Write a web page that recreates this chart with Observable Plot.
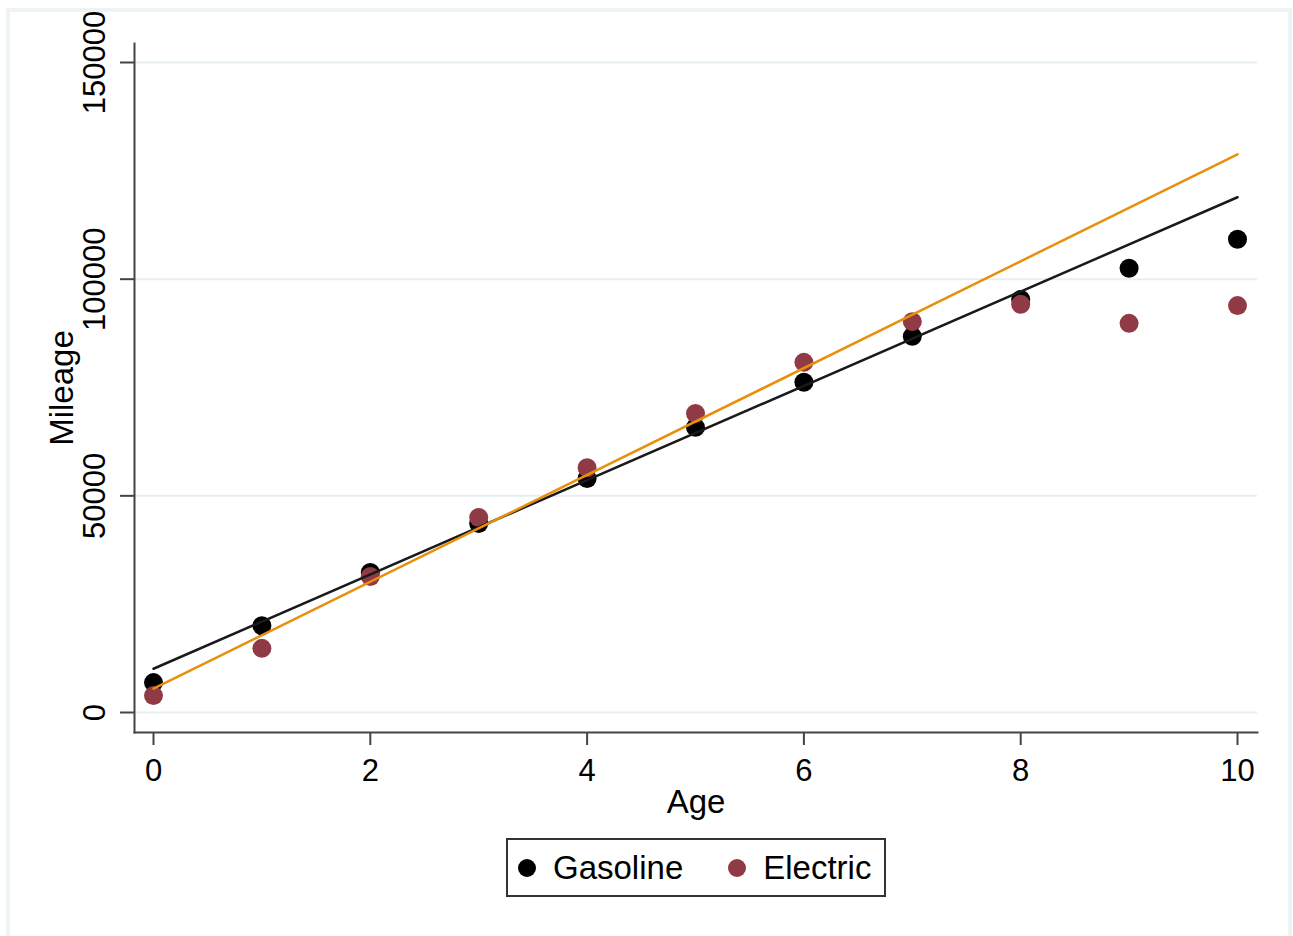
<!DOCTYPE html>
<html>
<head>
<meta charset="utf-8">
<script src="https://cdn.jsdelivr.net/npm/d3@7"></script>
<script src="https://cdn.jsdelivr.net/npm/@observablehq/plot@0.6"></script>
<style>
  html, body { margin: 0; padding: 0; background: #fff; }
  #wrap { position: relative; width: 1293px; height: 936px; overflow: hidden; background: #fff; font-family: "Liberation Sans", Arial, sans-serif; }
  #outer { position: absolute; left: 6px; top: 8px; width: 1278px; height: 940px; border: 4px solid #eef3f4; box-sizing: content-box; }
  #chart { position: absolute; left: 0; top: 0; }
  #legend { position: absolute; left: 506px; top: 838px; width: 376px; height: 55px; border: 2px solid #333; display: flex; align-items: center; font-size: 33px; color: #000; }
  .sw { width: 18px; height: 18px; border-radius: 50%; display: inline-block; }
</style>
</head>
<body>
<div id="wrap">
  <div id="outer"></div>
  <div id="chart"></div>
  <div id="legend"></div>
</div>
<script>
// ---- data ----
const ages = [0, 1, 2, 3, 4, 5, 6, 7, 8, 9, 10];
const gasoline = [6900, 20000, 32300, 43600, 54000, 65800, 76200, 86800, 95300, 102500, 109200];
const electric = [3900, 14800, 31400, 45000, 56500, 69000, 80800, 90200, 94200, 89800, 93900];
const fitAges = [0, 10];
const gasolineFit = [10100, 118900];
const electricFit = [5500, 128800];
const seriesNames = ["Gasoline", "Electric"];
const seriesColors = ["#000000", "#8f3a45"];
const fitColors = ["#1a1a1a", "#e8900c"];
const xTicks = [0, 2, 4, 6, 8, 10];
const yTicks = [0, 50000, 100000, 150000];

const gasPts = ages.map((a, i) => ({age: a, mileage: gasoline[i]}));
const elecPts = ages.map((a, i) => ({age: a, mileage: electric[i]}));
const gasLine = fitAges.map((a, i) => ({age: a, mileage: gasolineFit[i]}));
const elecLine = fitAges.map((a, i) => ({age: a, mileage: electricFit[i]}));

const axisColor = "#444";
const font = "Liberation Sans, Arial, sans-serif";

const chart = Plot.plot({
  width: 1293,
  height: 830,
  marginLeft: 134,
  marginRight: 36,
  marginTop: 43,
  marginBottom: 98,
  style: {fontFamily: font, fontSize: "31px", color: "#000", background: "transparent"},
  x: {domain: [0, 10], range: [153, 1237]},
  y: {domain: [0, 150000], range: [712, 62]},
  marks: [
    Plot.gridY(yTicks, {stroke: "#e6eff1", strokeOpacity: 1, strokeWidth: 2}),
    Plot.frame({anchor: "left", stroke: axisColor, strokeWidth: 2}),
    Plot.frame({anchor: "bottom", stroke: axisColor, strokeWidth: 2}),
    Plot.axisY(yTicks, {tickSize: 14, stroke: axisColor, strokeWidth: 2, tickFormat: () => "", label: null}),
    Plot.text(yTicks, {y: d => d, text: d => String(d), frameAnchor: "left", textAnchor: "middle", lineAnchor: "middle", rotate: -90, dx: -39, fontSize: 31, fill: "#000"}),
    Plot.axisX(xTicks, {tickSize: 13, tickPadding: 13, stroke: axisColor, strokeWidth: 2, fontSize: 31, fill: "#000", label: null, tickFormat: d => String(d)}),
    Plot.text(["Mileage"], {frameAnchor: "left", textAnchor: "middle", lineAnchor: "middle", rotate: -90, dx: -72, fontSize: 33, fill: "#000"}),
    Plot.text(["Age"], {frameAnchor: "bottom", lineAnchor: "middle", dy: 70, fontSize: 33, fill: "#000"}),
    Plot.dot(gasPts, {x: "age", y: "mileage", r: 9.5, fill: seriesColors[0], stroke: "none"}),
    Plot.dot(elecPts, {x: "age", y: "mileage", r: 9.5, fill: seriesColors[1], stroke: "none"}),
    Plot.line(gasLine, {x: "age", y: "mileage", stroke: fitColors[0], strokeWidth: 2.5}),
    Plot.line(elecLine, {x: "age", y: "mileage", stroke: fitColors[1], strokeWidth: 2.5})
  ]
});
document.getElementById("chart").appendChild(chart);

// legend
const legend = document.getElementById("legend");
seriesNames.forEach((name, i) => {
  const sw = document.createElement("span");
  sw.className = "sw";
  sw.style.background = seriesColors[i];
  sw.style.marginLeft = i === 0 ? "10px" : "45px";
  const lab = document.createElement("span");
  lab.textContent = name;
  lab.style.marginLeft = "17px";
  legend.appendChild(sw);
  legend.appendChild(lab);
});
</script>
</body>
</html>
